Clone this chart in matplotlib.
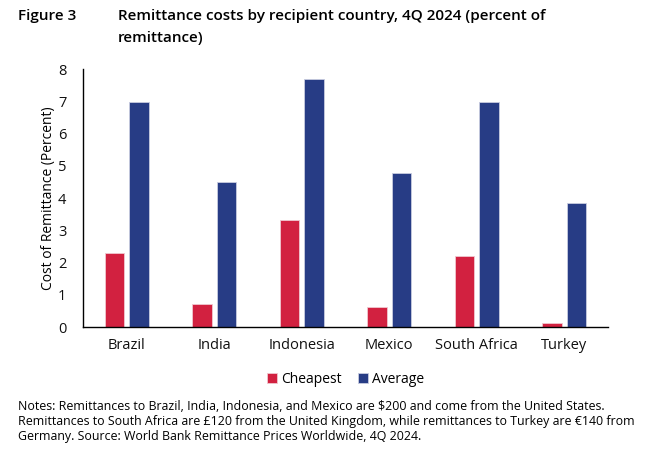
import numpy as np
import matplotlib
matplotlib.use("Agg")
import matplotlib.pyplot as plt

countries = ["Brazil", "India", "Indonesia", "Mexico", "South Africa", "Turkey"]
cheapest = [2.30, 0.70, 3.33, 0.61, 2.19, 0.13]
average = [6.97, 4.50, 7.68, 4.79, 6.97, 3.86]
yticks = [0, 1, 2, 3, 4, 5, 6, 7, 8]

red = "#D22140"
blue = "#273C85"

plt.rcParams['font.family'] = ["Open Sans", "DejaVu Sans"]

fig = plt.figure(figsize=(6.53, 4.49), dpi=100)
ax = fig.add_axes([0.127, 0.2717, 0.804, 0.5746])

x = np.arange(len(countries))
w = 0.22
ax.bar(x - 0.14, cheapest, w, color=red, edgecolor="#f0c8d0", linewidth=0.6, label="Cheapest")
ax.bar(x + 0.14, average, w, color=blue, edgecolor="#c8cce0", linewidth=0.6, label="Average")

ax.set_xlim(-0.5, len(countries) - 0.5)
ax.set_ylim(0, 8)
ax.set_yticks(yticks)
ax.set_xticks(x)
ax.set_xticklabels(countries)
ax.tick_params(axis="both", length=0, labelsize=10.5, labelcolor="#111111")
ax.tick_params(axis="x", pad=8)
ax.tick_params(axis="y", pad=12)
for s in ["top", "right"]:
    ax.spines[s].set_visible(False)
ax.spines["left"].set_linewidth(1.0)
ax.spines["bottom"].set_linewidth(1.0)
ax.set_ylabel("Cost of Remittance (Percent)", fontsize=10, labelpad=1)

leg = ax.legend(loc="upper center", bbox_to_anchor=(0.5, -0.125), ncol=2, frameon=False,
                fontsize=10, handlelength=0.75, handleheight=0.75, handletextpad=0.25,
                columnspacing=1.2)

fig.text(0.027, 0.965, "Figure 3", fontsize=11, va="center", weight="semibold")
fig.text(0.181, 0.965, "Remittance costs by recipient country, 4Q 2024 (percent of",
         fontsize=11, va="center", weight="semibold")
fig.text(0.181, 0.916, "remittance)", fontsize=11, va="center", weight="semibold")

notes = [
    "Notes: Remittances to Brazil, India, Indonesia, and Mexico are $200 and come from the United States.",
    "Remittances to South Africa are \u00a3120 from the United Kingdom, while remittances to Turkey are \u20ac140 from",
    "Germany. Source: World Bank Remittance Prices Worldwide, 4Q 2024.",
]
for i, line in enumerate(notes):
    fig.text(0.027, 0.094 - i * 0.0335, line, fontsize=8.95, va="center")

fig.savefig("out.png", dpi=100)
